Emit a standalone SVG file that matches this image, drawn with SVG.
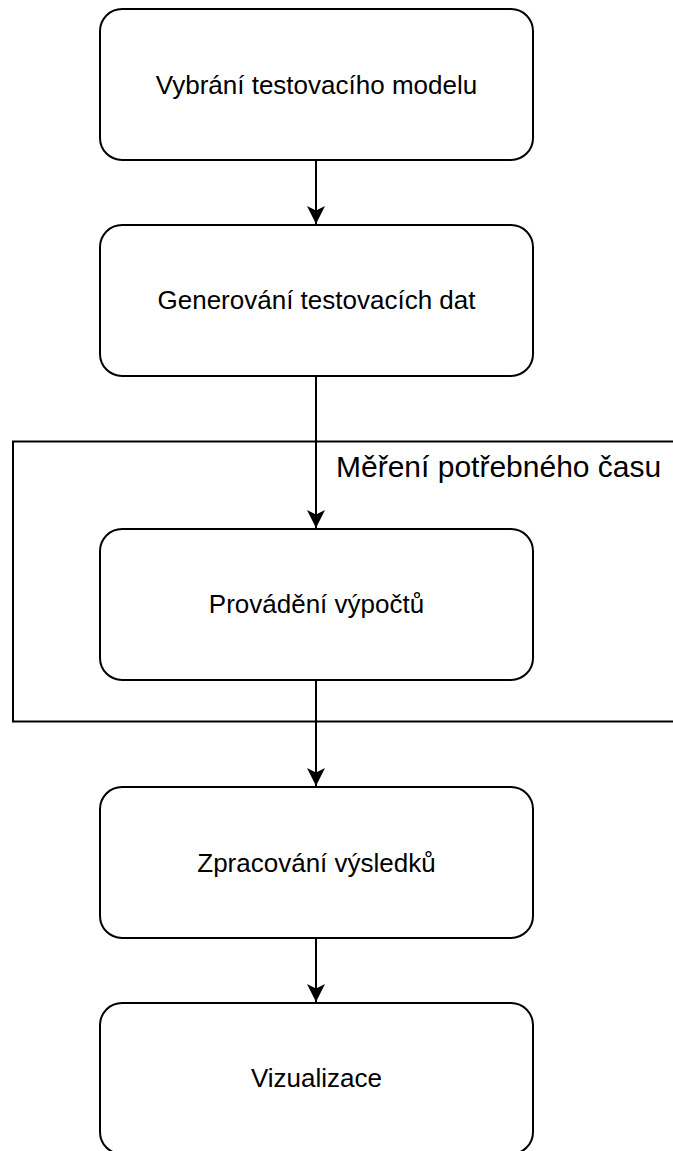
<svg xmlns="http://www.w3.org/2000/svg" width="673" height="1151" viewBox="0 0 673 1151">
  <style>
    .step { fill: #ffffff; stroke: #000000; stroke-width: 2; }
    .label { font-family: "Liberation Sans", Arial, Helvetica, sans-serif; font-size: 26px; fill: #000000; text-anchor: middle; }
    .frame { fill: none; stroke: #000000; stroke-width: 2; }
    .frame-title { font-family: "Liberation Sans", Arial, Helvetica, sans-serif; font-size: 30px; fill: #000000; }
    .flow { fill: none; stroke: #000000; stroke-width: 2; }
  </style>
  <defs>
    <marker id="arrow" viewBox="0 0 18 18" refX="18" refY="9" markerWidth="18" markerHeight="18" markerUnits="userSpaceOnUse" orient="auto">
      <path d="M0,0 L18,9 L0,18 L4.5,9 Z" fill="#000000"/>
    </marker>
  </defs>
  <rect width="673" height="1151" fill="#ffffff"/>

  <!-- timed section frame -->
  <g id="timing-frame">
    <path class="frame" d="M690,441.5 H13 V721.5 H690"/>
    <text class="frame-title" x="336" y="477">Měření potřebného času</text>
  </g>

  <!-- connectors -->
  <g id="connectors">
    <line class="flow" x1="316" y1="160" x2="316" y2="224" marker-end="url(#arrow)"/>
    <line class="flow" x1="316" y1="376" x2="316" y2="528" marker-end="url(#arrow)"/>
    <line class="flow" x1="316" y1="680" x2="316" y2="786" marker-end="url(#arrow)"/>
    <line class="flow" x1="316" y1="938" x2="316" y2="1002" marker-end="url(#arrow)"/>
  </g>

  <!-- steps -->
  <g id="step-select-model">
    <rect class="step" x="100" y="9" width="433" height="151" rx="22" ry="22"/>
    <text class="label" x="316.5" y="94">Vybrání testovacího modelu</text>
  </g>
  <g id="step-generate-data">
    <rect class="step" x="100" y="225" width="433" height="151" rx="22" ry="22"/>
    <text class="label" x="316.5" y="309">Generování testovacích dat</text>
  </g>
  <g id="step-compute">
    <rect class="step" x="100" y="529" width="433" height="151" rx="22" ry="22"/>
    <text class="label" x="316.5" y="613">Provádění výpočtů</text>
  </g>
  <g id="step-process-results">
    <rect class="step" x="100" y="787" width="433" height="151" rx="22" ry="22"/>
    <text class="label" x="316.5" y="872">Zpracování výsledků</text>
  </g>
  <g id="step-visualize">
    <rect class="step" x="100" y="1003" width="433" height="151" rx="22" ry="22"/>
    <text class="label" x="316.5" y="1087">Vizualizace</text>
  </g>
</svg>
